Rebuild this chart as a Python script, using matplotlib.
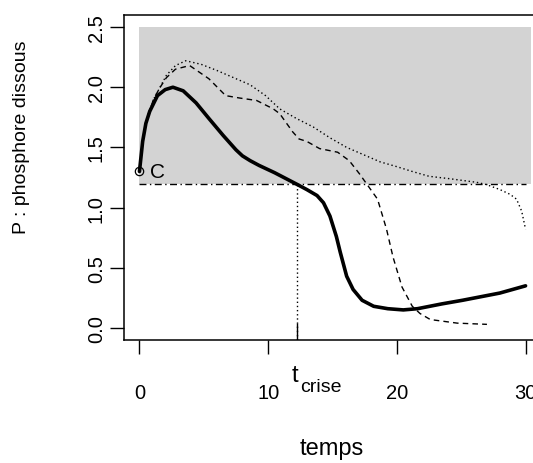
import numpy as np
import matplotlib
matplotlib.use("Agg")
import matplotlib.pyplot as plt

plt.rcParams['font.family'] = ['Liberation Sans', 'DejaVu Sans']

# solid curve (thick)
t_solid = [0, 0.25, 0.5, 0.8, 1.4, 2.0, 2.6, 3.4, 4.4, 5.4, 6.5, 7.5, 8.0, 8.6, 9.3,
           10.5, 11.4, 12.3, 13.0, 13.8, 14.3, 14.8, 15.3, 15.6, 16.1, 16.6, 17.3,
           18.2, 19.3, 20.5, 21.6, 23.5, 25.1, 28.0, 30.0]
p_solid = [1.30, 1.55, 1.70, 1.80, 1.93, 1.98, 2.00, 1.97, 1.87, 1.74, 1.60, 1.48, 1.43, 1.39, 1.35,
           1.29, 1.24, 1.19, 1.15, 1.10, 1.04, 0.93, 0.76, 0.63, 0.43, 0.32, 0.23,
           0.18, 0.16, 0.15, 0.16, 0.20, 0.23, 0.29, 0.35]

# dashed curve
t_dash = [0, 0.3, 0.7, 1.1, 1.55, 2.1, 2.8, 3.9, 5.4, 6.7, 7.8, 9.1, 10.4, 10.9, 11.9, 12.4,
          13.0, 14.0, 15.4, 16.3, 17.1, 17.7, 18.5, 19.2, 19.7, 20.4, 21.2, 21.8, 22.6,
          24.7, 27.0]
p_dash = [1.30, 1.60, 1.78, 1.90, 1.99, 2.08, 2.15, 2.18, 2.07, 1.93, 1.91, 1.89, 1.82, 1.78, 1.63, 1.57,
          1.55, 1.49, 1.46, 1.39, 1.28, 1.19, 1.07, 0.82, 0.59, 0.34, 0.18, 0.12, 0.07,
          0.04, 0.03]

# dotted curve
t_dot = [0, 0.3, 0.7, 1.1, 1.55, 2.1, 2.8, 3.6, 4.8, 6.0, 7.3, 8.6, 9.8, 10.9, 12.2, 13.5,
         14.8, 16.1, 17.4, 18.7, 20.0, 21.2, 22.5, 24.1, 26.2, 27.0, 28.0, 28.8, 29.3,
         29.7, 30.0]
p_dot = [1.30, 1.60, 1.78, 1.90, 1.99, 2.10, 2.18, 2.22, 2.19, 2.14, 2.08, 2.02, 1.93, 1.82, 1.74, 1.67,
         1.58, 1.50, 1.44, 1.38, 1.34, 1.30, 1.26, 1.24, 1.21, 1.19, 1.15, 1.11, 1.07,
         0.97, 0.82]

seuil = 1.2
t_crise = 12.26
xticks = [0, 10, 20, 30]
yticks = [0.0, 0.5, 1.0, 1.5, 2.0, 2.5]

W, H = 533, 464
fig = plt.figure(figsize=(W / 100, H / 100), dpi=100)
# axes box runs past the right edge, as in the original
ax = fig.add_axes([124 / W, 1 - 341 / H, (541 - 124) / W, (341 - 16) / H])
ax.set_xlim(-1.2, 31.2)
ax.set_ylim(-0.1, 2.6)

# zone above the threshold
ax.fill_between([0, 30.4], seuil, 2.5, color='#d3d3d3', lw=0, zorder=0)
ax.plot([0, 30], [seuil, seuil], color='black', lw=1, ls=(0, (5, 2.5, 1, 2.5)))

ax.plot(t_dot, p_dot, color='black', lw=1, ls=(0, (1, 2)))
ax.plot(t_dash, p_dash, color='black', lw=1, ls=(0, (4, 3)))
ax.plot(t_solid, p_solid, color='black', lw=2.6, solid_capstyle='round')

# t_crise marker
ax.plot([t_crise, t_crise], [-0.1, seuil], color='black', lw=1, ls=(0, (1, 2)))
ax.plot([t_crise, t_crise], [-0.1, 0.03], color='black', lw=1)

ax.plot([0], [1.3], marker='o', ms=6, mfc='none', mec='black', mew=0.9)
ax.text(0.85, 1.3, 'C', fontsize=15, va='center', ha='left')

for s in ax.spines.values():
    s.set_linewidth(1.1)

ax.set_xticks(xticks)
ax.set_xticklabels([str(v) for v in xticks])
ax.set_yticks(yticks)
ax.set_yticklabels(['%.1f' % v for v in yticks], rotation=90, va='center')
ax.tick_params(axis='both', direction='out', length=10, width=1, labelsize=14.5)
ax.tick_params(axis='x', pad=21)
ax.tick_params(axis='y', pad=3)

# t_crise label: main letter plus subscript
fig.text(292 / W, 1 - 382 / H, 't', fontsize=17, ha='left', va='baseline')
fig.text(300 / W, 1 - 392 / H, 'crise', fontsize=14, ha='left', va='baseline')
fig.text(332 / W, 1 - 449 / H, 'temps', fontsize=17, ha='center', va='center')
fig.text(22 / W, 1 - 137 / H, 'P : phosphore dissous', fontsize=14,
         ha='center', va='center', rotation=90)

fig.savefig('out.png', dpi=100)
